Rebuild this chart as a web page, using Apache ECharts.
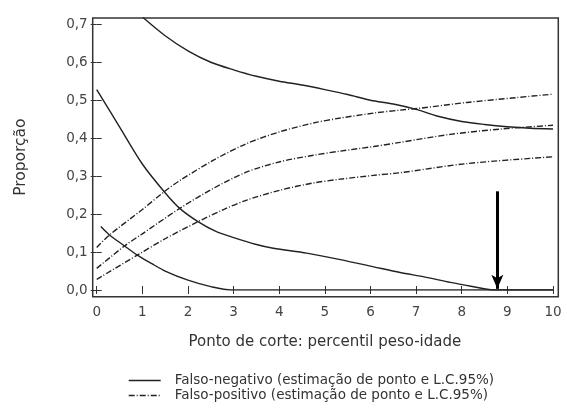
<!DOCTYPE html>
<html>
<head>
<meta charset="utf-8">
<script src="https://cdn.jsdelivr.net/npm/echarts@6/dist/echarts.min.js"></script>
<style>html,body{margin:0;padding:0;background:#fff;}#c{width:567px;height:409px;}</style>
</head>
<body>
<div id="c"></div>
<script>
// ---- data ----
var xTicks = [0,1,2,3,4,5,6,7,8,9,10];
var yTicks = [0,0.1,0.2,0.3,0.4,0.5,0.6,0.7];
var fnName = 'Falso-negativo (estimação de ponto e L.C.95%)';
var fpName = 'Falso-positivo (estimação de ponto e L.C.95%)';
var fnUpper = [[1.015,0.718],[1.5,0.67],[2,0.63],[2.5,0.6],[3,0.58],[3.5,0.563],[4,0.55],[4.5,0.54],[5,0.528],[5.5,0.515],[6,0.5],[6.5,0.49],[7,0.476],[7.5,0.457],[8,0.444],[8.5,0.436],[9,0.43],[9.5,0.426],[10,0.424]];
var fnPoint = [[0,0.528],[0.5,0.43],[1,0.332],[1.48,0.259],[1.82,0.215],[2.22,0.18],[2.6,0.155],[3,0.138],[3.5,0.12],[3.87,0.11],[4.6,0.097],[5.34,0.08],[6.07,0.061],[6.65,0.046],[7.2,0.034],[7.75,0.02],[8.2,0.01],[8.7,0],[10,0]];
var fnLower = [[0.09,0.167],[0.28,0.145],[0.61,0.116],[0.89,0.092],[1.2,0.07],[1.5,0.05],[2,0.026],[2.5,0.009],[2.95,0],[10,0]];
var fpUpper = [[0,0.112],[0.28,0.145],[1,0.212],[1.48,0.259],[1.83,0.289],[2.56,0.342],[3.29,0.386],[4.02,0.417],[4.75,0.44],[5.34,0.453],[6.07,0.466],[6.65,0.474],[7.09,0.479],[8.11,0.494],[9.21,0.507],[10,0.516]];
var fpPoint = [[0,0.057],[0.61,0.116],[1,0.148],[1.82,0.215],[2.56,0.268],[3.29,0.311],[4.02,0.338],[4.75,0.355],[5.34,0.366],[6.07,0.378],[6.65,0.389],[7.75,0.41],[8.85,0.424],[10,0.434]];
var fpLower = [[0,0.028],[0.89,0.092],[1.5,0.135],[2.22,0.18],[2.78,0.212],[3.29,0.237],[4.02,0.263],[4.75,0.282],[5.34,0.292],[6.07,0.302],[6.65,0.309],[8.11,0.333],[10,0.351]];
var arrowX = 8.78;
var arrowFrom = 0.26;
var arrowTo = 0.003;

// ---- chart ----
var FONT = 'DejaVu Sans';
var INK = '#222';
var TXT = '#444';
var chart = echarts.init(document.getElementById('c'), null, {renderer:'canvas'});

function lineSeries(name, data, dashed, clip){
  return {
    type:'line', name:name, data:data, xAxisIndex:0, yAxisIndex:0,
    symbol:'none', showSymbol:false, smooth:0.3, clip: clip !== false, silent:true, animation:false,
    lineStyle:{color:INK, width:1.4, type: dashed ? [6,2,1,2] : 'solid'},
    itemStyle:{color:INK}
  };
}

var series = [
  lineSeries(fnName, fnUpper, false, false),
  lineSeries(fnName, fnPoint, false),
  lineSeries(fnName, fnLower, false),
  lineSeries(fpName, fpUpper, true),
  lineSeries(fpName, fpPoint, true),
  lineSeries(fpName, fpLower, true)
];
series.push({
  type:'line', data:[], xAxisIndex:0, yAxisIndex:0, silent:true, animation:false,
  markLine:{
    silent:true, animation:false, symbol:['none','arrow'], symbolSize:[9,14],
    label:{show:false},
    lineStyle:{color:'#000', width:3, type:'solid'},
    data:[[{coord:[arrowX, arrowFrom]},{coord:[arrowX, arrowTo]}]]
  }
});

var axisTxt = {color:TXT, fontFamily:FONT, fontSize:13.5};

chart.setOption({
  animation:false,
  backgroundColor:'#fff',
  grid:[
    {left:96.7, top:24.3, width:456.3, height:265.7, show:false},
    {left:92.7, top:18, width:465.6, height:278.7, show:true, borderColor:'#333', borderWidth:1.5, backgroundColor:'transparent'}
  ],
  legend:{
    orient:'vertical', left:128, top:373, padding:0, itemWidth:32, itemHeight:10, itemGap:0,
    data:[fnName, fpName], selectedMode:false,
    itemStyle:{opacity:0},
    lineStyle:{width:1.4, color:INK},
    textStyle:{color:'#333', fontFamily:FONT, fontSize:13.5, lineHeight:15, padding:[0,0,0,9]}
  },
  xAxis:[
    {type:'value', gridIndex:0, min:0, max:10, interval:1, position:'bottom', offset:6.7,
     axisLine:{show:false}, splitLine:{show:false},
     axisTick:{show:true, inside:false, length:4, lineStyle:{color:'#333'}},
     axisLabel:Object.assign({margin:9}, axisTxt),
     name:'Ponto de corte: percentil peso-idade', nameLocation:'middle', nameGap:38,
     nameTextStyle:{color:'#333', fontFamily:FONT, fontSize:15}},
    {type:'value', gridIndex:0, min:0, max:10, interval:1, position:'top', offset:6.3,
     axisLine:{show:false}, splitLine:{show:false},
     axisTick:{show:true, inside:false, length:4, lineStyle:{color:'#333'}},
     axisLabel:{show:false}},
    {type:'value', gridIndex:1, min:0, max:1, show:false}
  ],
  yAxis:[
    {type:'value', gridIndex:0, min:0, max:0.7, interval:0.1, position:'left', offset:4,
     axisLine:{show:false}, splitLine:{show:false},
     axisTick:{show:true, inside:false, length:6, lineStyle:{color:'#333'}},
     axisLabel:Object.assign({margin:5, formatter:function(v){return v.toFixed(1).replace('.', ',');}}, axisTxt),
     name:'Proporção', nameLocation:'middle', nameGap:64, nameRotate:90,
     nameTextStyle:{color:'#333', fontFamily:FONT, fontSize:15.5}},
    {type:'value', gridIndex:0, min:0, max:0.7, interval:0.1, position:'right', offset:5,
     axisLine:{show:false}, splitLine:{show:false},
     axisTick:{show:true, inside:false, length:5, lineStyle:{color:'#333'}},
     axisLabel:{show:false}},
    {type:'value', gridIndex:1, min:0, max:1, show:false}
  ],
  series:series
});
</script>
</body>
</html>
